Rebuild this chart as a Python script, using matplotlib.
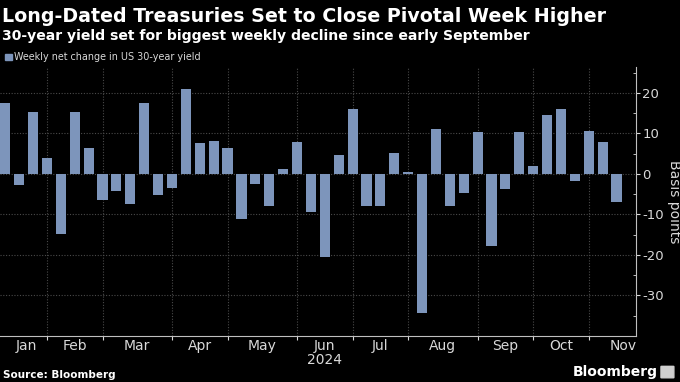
import numpy as np
import pandas as pd
import matplotlib
matplotlib.use("Agg")
import matplotlib.pyplot as plt
from matplotlib.patches import FancyBboxPatch

## Data

# weeks (Fridays) of 2024, Jan 5 -> Nov 8
semaines = pd.date_range("2024-01-05", "2024-11-08", freq="W-FRI")

# weekly net change in US 30-year yield, basis points
variation = [17.4, -2.7, 15.2, 4.0, -14.8, 15.2, 6.3, -6.5, -4.3, -7.5,
             17.6, -5.1, -3.5, 20.9, 7.6, 8.2, 6.5, -11.1, -2.5, -8.0,
             1.2, 7.8, -9.3, -20.5, 4.8, 16.1, -8.0, -8.0, 5.2, 0.5,
             -34.4, 11.1, -7.8, -4.8, 10.4, -17.7, -3.8, 10.4, 2.0, 14.6,
             16.1, -1.8, 10.7, 7.9, -6.8]

mois = ["Jan", "Feb", "Mar", "Apr", "May", "Jun", "Jul", "Aug", "Sep", "Oct", "Nov"]
y_ticks = [20, 10, 0, -10, -20, -30]

titre = "Long-Dated Treasuries Set to Close Pivotal Week Higher"
sous_titre = "30-year yield set for biggest weekly decline since early September"
legende = "Weekly net change in US 30-year yield"

## Style

fond = "#000000"
couleur_barre = "#7d95bb"
couleur_texte = "#d9d9d9"
couleur_grille = "#4a4a4a"

# month boundaries: index of the last Friday of each month (through end of Nov)
tous_vendredis = pd.date_range("2024-01-05", "2024-11-29", freq="W-FRI")
bornes = [0]
for i in range(len(tous_vendredis) - 1):
    if tous_vendredis[i].month != tous_vendredis[i + 1].month:
        bornes.append(i)
bornes.append(len(tous_vendredis) - 1)
ticks_mois = bornes[1:-1]
pos_labels = [(bornes[k] + bornes[k + 1]) / 2 for k in range(len(bornes) - 1)]

## Figure

fig = plt.figure(figsize=(6.8, 3.82), dpi=100, facecolor=fond)
ax = fig.add_axes([0.0, 0.1204, 0.9353, 0.7042], facecolor=fond)

x = np.arange(len(semaines))
ax.bar(x, variation, width=0.73, color=couleur_barre, zorder=3)

ax.set_xlim(-0.38, 45.4)
ax.set_ylim(-40, 26.4)

# y axis on the right
ax.yaxis.tick_right()
ax.yaxis.set_label_position("right")
ax.set_yticks(y_ticks)
ax.set_yticklabels([str(v) for v in y_ticks])
ax.set_yticks(np.arange(-35, 26, 10), minor=True)
ax.tick_params(axis="y", which="major", colors=couleur_texte, labelsize=9.5,
               length=3, width=0.8, direction="out", pad=1.5)
ax.tick_params(axis="y", which="minor", colors=couleur_texte, length=2,
               width=0.6, direction="in")
ax.set_ylabel("Basis points", color=couleur_texte, fontsize=10, rotation=-90,
              va="center", ha="center")
ax.yaxis.set_label_coords(1.059, 0.5)

# x axis: month ticks between groups, labels centered
ax.set_xticks(ticks_mois)
ax.set_xticklabels([])
ax.set_xticks(pos_labels, minor=True)
ax.set_xticklabels(mois, minor=True)
ax.tick_params(axis="x", which="major", colors=couleur_texte, length=3,
               width=0.8, direction="out")
ax.tick_params(axis="x", which="minor", colors=couleur_texte, length=0,
               labelsize=10, pad=2)
ax.text(pos_labels[5], -0.065, "2024", transform=ax.get_xaxis_transform(),
        ha="center", va="top", color=couleur_texte, fontsize=10)

# grid
ax.grid(axis="y", which="major", color=couleur_grille, linestyle=(0, (1, 1.5)),
        linewidth=0.8, zorder=0)
ax.grid(axis="x", which="major", color=couleur_grille, linestyle=(0, (1, 1.5)),
        linewidth=0.8, zorder=0)

for cote in ["top", "left"]:
    ax.spines[cote].set_visible(False)
ax.spines["bottom"].set_color("#bfbfbf")
ax.spines["right"].set_color("#bfbfbf")

## Texts

fig.text(0.003, 0.956, titre, color="white", fontsize=13.7, fontweight="bold",
         va="center", ha="left")
fig.text(0.003, 0.907, sous_titre, color="white", fontsize=10.1,
         fontweight="bold", va="center", ha="left")
fig.patches.append(FancyBboxPatch((0.008, 0.843), 0.009, 0.016,
                                  boxstyle="square,pad=0", transform=fig.transFigure,
                                  color=couleur_barre))
fig.text(0.021, 0.851, legende, color=couleur_texte, fontsize=6.9,
         va="center", ha="left")

fig.text(0.004, 0.018, "Source: Bloomberg", color="white", fontsize=7.5,
         fontweight="bold", va="center", ha="left")
fig.text(0.968, 0.025, "Bloomberg", color="white", fontsize=10,
         fontweight="bold", va="center", ha="right")
fig.patches.append(FancyBboxPatch((0.973, 0.012), 0.017, 0.028,
                                  boxstyle="round,pad=0.001", transform=fig.transFigure,
                                  color="#cfcfcf"))

fig.savefig("out.png", dpi=100, facecolor=fond)
